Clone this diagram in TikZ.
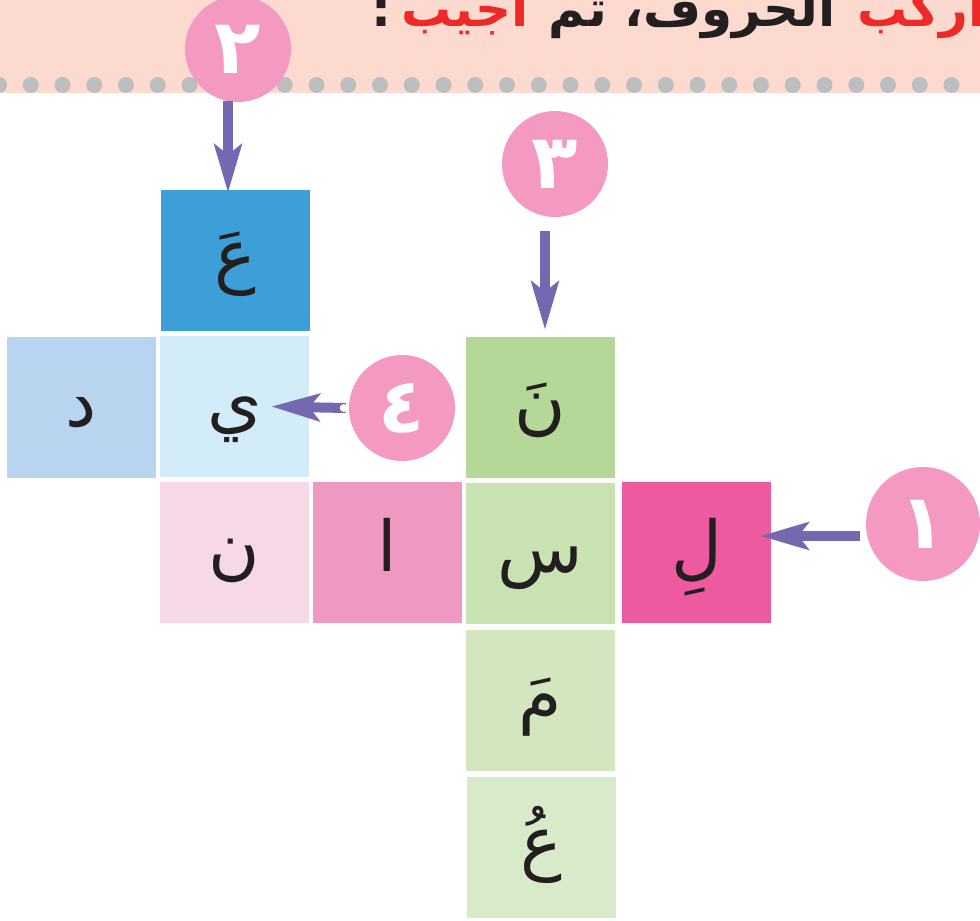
\documentclass[tikz,border=0pt]{standalone}
\usepackage{fontspec}
\newfontfamily\arabicfont[Script=Arabic]{DejaVu Sans}
\TeXXeTstate=1
\usetikzlibrary{arrows.meta,positioning}
\definecolor{band}{HTML}{FCDAD0}
\definecolor{dotc}{HTML}{BCBEC0}
\definecolor{titlered}{HTML}{EE2A27}
\definecolor{inkc}{HTML}{231F20}
\definecolor{pinkc}{HTML}{F49AC2}
\definecolor{arrowc}{HTML}{7469B0}
\definecolor{blueA}{HTML}{3D9FD8}
\definecolor{blueB}{HTML}{D2ECF9}
\definecolor{blueC}{HTML}{B9D4EE}
\definecolor{pinkA}{HTML}{F7D8E8}
\definecolor{pinkB}{HTML}{EF98C2}
\definecolor{pinkD}{HTML}{EE5AA0}
\definecolor{greenA}{HTML}{B5D898}
\definecolor{greenB}{HTML}{C9E2B2}
\definecolor{greenC}{HTML}{D3E6C0}
\definecolor{greenD}{HTML}{D9EACB}
\begin{document}
\begin{tikzpicture}[x=1pt,y=-1pt,>={Stealth[length=48pt,width=27pt,inset=10pt]}, line join=round,
	cell/.style={minimum width=149pt,minimum height=141pt,inner sep=0pt,text height=60pt,text depth=22pt,text=inkc,font=\arabicfont\fontsize{70}{72}\selectfont},
	num/.style={circle,fill=pinkc,text=white,inner sep=0pt,minimum size=106pt,font=\arabicfont\bfseries\fontsize{76}{76}\selectfont},
	word/.style={inner sep=0pt,text=inkc,font=\arabicfont\bfseries\fontsize{50}{50}\selectfont},
	arr/.style={->,draw=arrowc,line width=10pt}]
	\useasboundingbox (0,0) rectangle (980,921);
	\fill[band] (0,0) rectangle (980,93);
	\foreach \i in {0,...,30}
	\fill[dotc] (-1+31.75*\i,85) circle (8pt);
	% title
	\node[word,text=titlered,anchor=base east] (w1) at (986,26) {\beginR اركب\endR};
	\node[word,base left=22pt of w1] (w2) {\beginR الحروف، ثم\endR};
	\node[word,text=titlered,base left=20pt of w2] (w3) {\beginR أجيب\endR};
	\node[word,base left=10pt of w3] (w4) {:};
	% cells
	\foreach \n/\x/\y/\c/\t in {ain/235.5/260.5/blueA/عَ, ya/234.5/406.5/blueB/ي, dal/81.5/407/blueC/د,
		nun/234.5/552/pinkA/ن, alif/387.5/552/pinkB/ا, nuna/540.5/407/greenA/نَ, sin/540.5/553/greenB/س,
		lam/696.5/552/pinkD/لِ, mim/540.5/700/greenC/مَ, ainb/541.5/847/greenD/عُ}
	\node[cell,fill=\c] (\n) at (\x,\y) {\beginR\t\endR};
	\foreach \n/\x/\y/\t in {n2/238/49/٢, n3/555/164/٣, n4/402/408/٤}
	\node[num] (\n) at (\x,\y) {\t};
	\node[num,minimum size=114pt] (n1) at (923,524) {١};
	\draw[arr] ([xshift=-10pt,yshift=1.5pt]n2.south) -- ([xshift=-7.5pt,yshift=-3pt]ain.north);
	\draw[arr] ([xshift=-10pt,yshift=-14pt]n3.south) -- ([xshift=4.5pt,yshift=6.5pt]nuna.north);
	\draw[arr] ([xshift=-6pt,yshift=-12pt]n1.west) -- ([xshift=-11pt,yshift=16pt]lam.east);
	\draw[arr] ([xshift=-3pt]n4.west) -- ([xshift=-38pt]ya.east);
	\fill[white] ([xshift=-5pt]n4.west) circle (4pt);
\end{tikzpicture}
\end{document}
